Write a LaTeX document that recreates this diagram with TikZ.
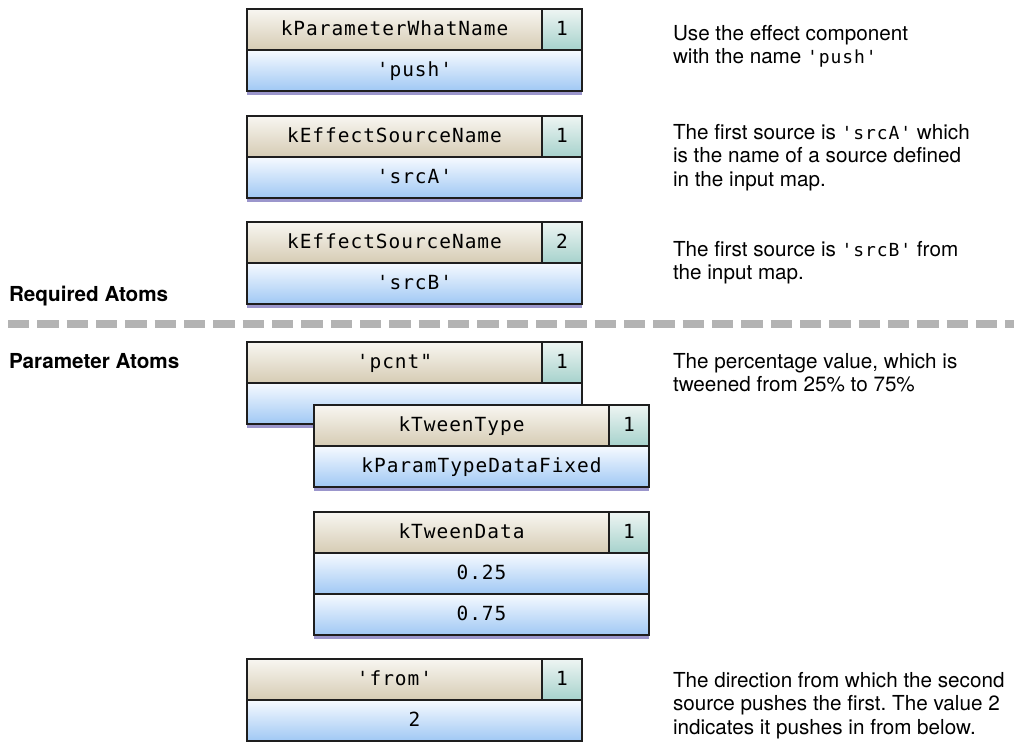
\documentclass[tikz,border=0pt]{standalone}
\usepackage{fontspec}
\setmainfont{TeX Gyre Heros}
\setmonofont[LetterSpace=5]{DejaVu Sans Mono}
\usetikzlibrary{positioning}

\definecolor{edge}{HTML}{1E1E1E}
\definecolor{hdrtop}{HTML}{F8F6F1}
\definecolor{hdrbot}{HTML}{D6CCB4}
\definecolor{numtop}{HTML}{EEF5F3}
\definecolor{numbot}{HTML}{A6D2CC}
\definecolor{valtop}{HTML}{F6FAFF}
\definecolor{valbot}{HTML}{A0C8F4}
\definecolor{shadowc}{HTML}{9B96CC}
\definecolor{sepgrey}{HTML}{B3B3B3}

\newcommand{\atomcode}[1]{{\ttfamily\fontsize{13.5pt}{17.6pt}\selectfont #1}}
\frenchspacing

\begin{document}
\begin{tikzpicture}[x=0.75pt, y=-0.75pt, node distance=0pt, line width=1.5pt,
    font=\fontsize{15.5pt}{17.6pt}\selectfont]

        \tikzstyle{cell} = [draw=edge, inner sep=0pt, outer sep=0pt, minimum height=30.75pt, text height=11.5pt, text depth=3pt, font=\ttfamily\fontsize{14.6pt}{16pt}\selectfont]
        \tikzstyle{namecell} = [cell, anchor=north west, minimum width=221.25pt, top color=hdrtop, bottom color=hdrbot]
        \tikzstyle{numcell} = [cell, minimum width=30pt, top color=numtop, bottom color=numbot]
        \tikzstyle{valcell} = [cell, minimum width=251.25pt, top color=valtop, bottom color=valbot]
        \tikzstyle{shadowline} = [draw=shadowc, line width=2.2pt]
        \tikzstyle{separator} = [draw=sepgrey, line width=6pt, dash pattern=on 16pt off 6pt]
        \tikzstyle{note} = [anchor=north west, inner sep=0pt, align=left]
        \tikzstyle{heading} = [note, font=\fontsize{15.5pt}{17.6pt}\selectfont\bfseries]

        \useasboundingbox (0,0) rectangle (1014,742);

        \node [namecell] (whatName) at (247,9) {kParameterWhatName};
        \node [numcell, right=of whatName] (whatNum) {1};
        \node [valcell, below=of whatName.south west, anchor=north west] (whatVal) {'push'};
        \draw [shadowline] ([yshift=-1.9pt]whatVal.south west) -- ([yshift=-1.9pt]whatVal.south east);

        \node [namecell] (srcAName) at (247,116) {kEffectSourceName};
        \node [numcell, right=of srcAName] (srcANum) {1};
        \node [valcell, below=of srcAName.south west, anchor=north west] (srcAVal) {'srcA'};
        \draw [shadowline] ([yshift=-1.9pt]srcAVal.south west) -- ([yshift=-1.9pt]srcAVal.south east);

        \node [namecell] (srcBName) at (247,222) {kEffectSourceName};
        \node [numcell, right=of srcBName] (srcBNum) {2};
        \node [valcell, below=of srcBName.south west, anchor=north west] (srcBVal) {'srcB'};
        \draw [shadowline] ([yshift=-1.9pt]srcBVal.south west) -- ([yshift=-1.9pt]srcBVal.south east);

        \node [heading] (reqLabel) at (8,285) {Required Atoms};
        \coordinate (sepL) at (8,324);
        \coordinate (sepR) at (1014,324);
        \draw [separator] (sepL) -- (sepR);
        \node [heading] (paramLabel) at (8,352) {Parameter Atoms};

        \node [namecell] (pcntName) at (247,342) {'pcnt"};
        \node [numcell, right=of pcntName] (pcntNum) {1};
        \node [valcell, below=of pcntName.south west, anchor=north west] (pcntVal) {};
        \draw [shadowline] ([yshift=-1.9pt]pcntVal.south west) -- ([yshift=-1.9pt]pcntVal.south east);

        \node [namecell] (typeName) at (314,405) {kTweenType};
        \node [numcell, right=of typeName] (typeNum) {1};
        \node [valcell, below=of typeName.south west, anchor=north west] (typeVal) {kParamTypeDataFixed};
        \draw [shadowline] ([yshift=-1.9pt]typeVal.south west) -- ([yshift=-1.9pt]typeVal.south east);

        \node [namecell] (dataName) at (314,512) {kTweenData};
        \node [numcell, right=of dataName] (dataNum) {1};
        \node [valcell, below=of dataName.south west, anchor=north west] (dataLo) {0.25};
        \node [valcell, below=of dataLo.south west, anchor=north west] (dataHi) {0.75};
        \draw [shadowline] ([yshift=-1.9pt]dataHi.south west) -- ([yshift=-1.9pt]dataHi.south east);

        \node [namecell] (fromName) at (247,659) {'from'};
        \node [numcell, right=of fromName] (fromNum) {1};
        \node [valcell, below=of fromName.south west, anchor=north west] (fromVal) {2};

        \node [note] (whatNote) at (672,24) {Use the effect component\\with the name \atomcode{'push'}};
        \node [note] (srcANote) at (672,123) {The first source is \atomcode{'srcA'} which\\is the name of a source defined\\in the input map.};
        \node [note] (srcBNote) at (672,240) {The first source is \atomcode{'srcB'} from\\the input map.};
        \node [note] (pcntNote) at (672,352) {The percentage value, which is\\tweened from 25\% to 75\%};
        \node [note] (fromNote) at (672,671) {The direction from which the second\\source pushes the first. The value 2\\indicates it pushes in from below.};

\end{tikzpicture}
\end{document}
